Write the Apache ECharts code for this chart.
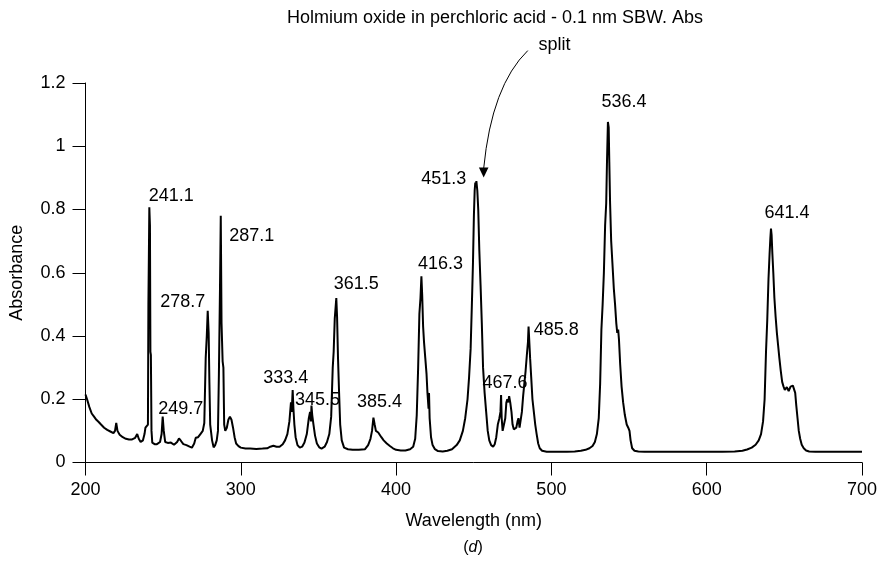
<!DOCTYPE html>
<html>
<head>
<meta charset="utf-8">
<script src="https://cdn.jsdelivr.net/npm/echarts@6/dist/echarts.min.js"></script>
<style>html,body{margin:0;padding:0;background:#fff}#c{width:880px;height:564px}</style>
</head>
<body>
<div id="c"></div>
<script>
// ---------------- DATA ----------------
const wavelengths = [
200,201,202.5,204,205.5,207,207.5,208,208.5,210,212,214,216,218,219,219.8,220.6,222,224,226,228,230,232,233.3,234.3,235.5,237,238,238.6,239.5,240.2,240.5,240.8,241.1,241.5,241.8,242.1,242.5,243,244.5,246,248,249,249.7,250.4,251.3,253,255,257,259,260.2,261.5,263,265,267,268.5,270,271,272.5,274,275.5,276.5,277.4,278.1,278.7,279.3,279.8,280.3,281.5,282.5,283.5,284.5,285.3,285.9,286.6,287.1,287.6,288.3,288.8,289.3,290,291,292,293,294,295,296,297,298.5,300,303,306,310,314,317,319,321,323,325,327,328.5,330,331.3,332.3,332.8,333.4,333.9,334.5,335.3,336.5,338,339.5,341,342.5,343.8,344.6,345.2,345.5,346,346.8,347.8,349,350.5,352,354,355.5,357,358.2,359.2,359.8,360.5,361,361.5,362,362.6,363.3,364,365,366.5,369,372,376,380,382,383.5,384.5,385.4,386.2,387,387.7,388.5,389.5,390.5,392,394,396,398,400,403,406,409,411,412.3,413.3,414.2,415,415.7,416.3,416.8,417.4,418,418.8,419.6,420.2,420.6,420.9,421.2,421.6,422.5,423.5,425,427,430,433,436,439,441,443,444.5,446,447,448,448.8,449.5,450.1,450.6,451,451.3,451.7,452.3,452.9,453.6,454.4,455.2,456,457,458,459,460,461.2,462.5,463.5,464.5,465.5,466.5,467.2,467.6,468,468.6,469.4,470.3,471,471.6,472.2,472.8,473.5,474.3,475,475.8,476.6,477.4,478.2,478.8,479.5,480.3,481,481.8,482.6,483.4,484.2,484.9,485.3,485.8,486.3,487,487.8,488.7,489.6,490.5,491.5,492.5,494,497,500,505,510,515,519,522,524.5,526.5,528,529.3,530.5,531.4,532.2,533,533.8,534.6,535.3,535.8,536.4,536.9,537.3,537.8,538.5,539.3,540.2,541,541.8,542.4,543,543.5,544.3,545.2,546.2,547.3,548.5,549.5,550.3,551,552,553.5,556,560,570,580,590,600,610,618,623,626,629,631.5,633.5,635,636.3,637.3,638.2,639,639.8,640.5,641,641.4,641.8,642.3,642.9,643.6,644.4,645.2,646,646.8,647.7,648.6,649.5,650.3,651,651.6,652.2,652.8,653.4,654,654.7,655.5,656.3,657,657.7,658.5,659.3,660.2,661.2,662.5,664,666,670,680,690,700
];
const absorbance = [
0.215,0.2,0.175,0.155,0.145,0.135,0.13,0.138,0.128,0.12,0.11,0.103,0.098,0.093,0.1,0.125,0.1,0.088,0.08,0.075,0.073,0.073,0.078,0.09,0.075,0.065,0.07,0.09,0.11,0.105,0.12,0.5,0.65,0.807,0.75,0.35,0.34,0.1,0.063,0.058,0.058,0.065,0.09,0.145,0.1,0.065,0.062,0.063,0.056,0.065,0.076,0.068,0.058,0.055,0.05,0.047,0.06,0.078,0.08,0.09,0.1,0.125,0.33,0.4,0.48,0.41,0.25,0.12,0.07,0.048,0.055,0.07,0.1,0.28,0.55,0.78,0.44,0.32,0.3,0.12,0.1,0.11,0.135,0.145,0.135,0.11,0.08,0.06,0.052,0.047,0.044,0.044,0.043,0.044,0.045,0.05,0.053,0.05,0.05,0.058,0.07,0.09,0.13,0.19,0.16,0.229,0.17,0.12,0.08,0.055,0.047,0.05,0.063,0.09,0.14,0.16,0.13,0.18,0.15,0.12,0.085,0.06,0.048,0.044,0.05,0.065,0.09,0.145,0.3,0.35,0.455,0.46,0.52,0.46,0.33,0.22,0.12,0.07,0.047,0.042,0.04,0.04,0.042,0.055,0.075,0.1,0.142,0.12,0.1,0.105,0.095,0.1,0.08,0.07,0.06,0.052,0.045,0.04,0.038,0.038,0.042,0.05,0.075,0.15,0.3,0.47,0.52,0.589,0.53,0.43,0.38,0.33,0.28,0.22,0.225,0.17,0.22,0.14,0.08,0.055,0.042,0.036,0.035,0.037,0.042,0.055,0.07,0.1,0.14,0.2,0.27,0.36,0.5,0.63,0.78,0.86,0.885,0.875,0.89,0.86,0.8,0.67,0.56,0.44,0.3,0.22,0.16,0.1,0.07,0.055,0.05,0.058,0.08,0.12,0.14,0.16,0.213,0.14,0.1,0.105,0.14,0.19,0.2,0.19,0.21,0.19,0.16,0.12,0.105,0.1,0.11,0.13,0.14,0.11,0.105,0.16,0.21,0.25,0.29,0.34,0.38,0.43,0.425,0.33,0.27,0.2,0.16,0.12,0.09,0.06,0.045,0.037,0.034,0.034,0.034,0.034,0.035,0.037,0.04,0.045,0.052,0.065,0.09,0.14,0.25,0.42,0.5,0.6,0.75,0.82,0.95,1.077,1.06,0.95,0.82,0.7,0.63,0.55,0.5,0.44,0.41,0.42,0.39,0.31,0.24,0.19,0.15,0.12,0.11,0.1,0.07,0.045,0.037,0.035,0.034,0.034,0.034,0.034,0.034,0.034,0.035,0.037,0.041,0.047,0.056,0.07,0.09,0.13,0.2,0.35,0.45,0.58,0.66,0.71,0.74,0.72,0.66,0.6,0.52,0.46,0.41,0.37,0.33,0.29,0.255,0.24,0.23,0.225,0.238,0.24,0.226,0.23,0.24,0.245,0.243,0.24,0.22,0.18,0.14,0.1,0.075,0.056,0.045,0.038,0.035,0.034,0.034,0.034,0.034
];
const peakNames = ['241.1','249.7','278.7','287.1','333.4','345.5','361.5','385.4','416.3','451.3','467.6','485.8','536.4','641.4'];
const peakWavelengths = [241.1,249.7,278.7,287.1,333.4,345.5,361.5,385.4,416.3,451.3,467.6,485.8,536.4,641.4];
const peakHeights = [0.807,0.145,0.48,0.78,0.229,0.18,0.52,0.142,0.589,0.89,0.213,0.43,1.077,0.74];
const xTicks = [200,300,400,500,600,700];
const titleText = 'Holmium oxide in perchloric acid - 0.1 nm SBW. Abs';
const noteText = 'split';
const xName = 'Wavelength (nm)';
const yName = 'Absorbance';

// ---------------- LAYOUT / STYLE ----------------
const FONT = '"Liberation Sans", Arial, Helvetica, sans-serif';
const FS = 18;
const labelOffsets = [[22,-11],[18,-8],[-25,-9],[31,20],[-7,-12],[6,-6],[20,-14],[6,-16],[19,-12],[-32,-2],[4,-12],[27,4],[16,-20],[16,-15]];
// arrow annotation anchor points in data coords: start, control, end, tip
const arrowAnchors = {start:[484.8,1.3025], ctrl:[461.6,1.192], end:[456.4,0.93], tip:[456.4,0.901]};

const chart = echarts.init(document.getElementById('c'), null, {renderer:'canvas'});
const lineData = wavelengths.map((w,i)=>[w, absorbance[i]]);

chart.setOption({
  animation:false,
  backgroundColor:'#fff',
  grid:{left:85.5, right:17.5, top:83, bottom:101.5, containLabel:false},
  xAxis:{
    type:'value', min:xTicks[0], max:xTicks[xTicks.length-1], interval:100,
    name:xName, nameLocation:'middle', nameGap:50,
    nameTextStyle:{fontFamily:FONT, fontSize:FS, color:'#000'},
    axisLine:{show:true, onZero:false, lineStyle:{color:'#000', width:1}},
    axisTick:{show:true, inside:false, length:13, lineStyle:{color:'#000', width:1}},
    axisLabel:{fontFamily:FONT, fontSize:FS, color:'#000', margin:19},
    splitLine:{show:false}
  },
  yAxis:{
    type:'value', min:0, max:1.2, interval:0.2,
    name:yName, nameLocation:'middle', nameGap:59, nameRotate:90,
    nameTextStyle:{fontFamily:FONT, fontSize:FS, color:'#000'},
    axisLine:{show:true, lineStyle:{color:'#000', width:1}},
    axisTick:{show:true, inside:false, length:13, lineStyle:{color:'#000', width:1}},
    axisLabel:{fontFamily:FONT, fontSize:FS, color:'#000', margin:20},
    splitLine:{show:false}
  },
  series:[
    {type:'line', data:lineData, showSymbol:false, symbol:'none',
     lineStyle:{color:'#000', width:2}, z:2}
  ]
});

const P = (pt)=>chart.convertToPixel({gridIndex:0}, pt);
const s = P(arrowAnchors.start), c = P(arrowAnchors.ctrl), e = P(arrowAnchors.end), t = P(arrowAnchors.tip);
const hw = 4.8;
const peakLabelGraphics = peakWavelengths.map((w,i)=>{
  const p = P([w, peakHeights[i]]);
  return {type:'text', x:p[0]+labelOffsets[i][0], y:p[1]+labelOffsets[i][1], z:10,
    style:{text:peakNames[i], fontFamily:FONT, fontSize:FS, fill:'#000', textAlign:'center', textVerticalAlign:'middle'}};
});
chart.setOption({
  graphic:[
    {type:'text', x:495, y:18, style:{text:titleText, fontFamily:FONT, fontSize:FS, fill:'#000', textAlign:'center', textVerticalAlign:'middle'}},
    {type:'text', x:554.5, y:45, style:{text:noteText, fontFamily:FONT, fontSize:FS, fill:'#000', textAlign:'center', textVerticalAlign:'middle'}},
    {type:'bezierCurve', shape:{x1:s[0], y1:s[1], x2:e[0], y2:e[1], cpx1:c[0], cpy1:c[1]}, style:{stroke:'#000', lineWidth:1, fill:null}},
    {type:'polygon', shape:{points:[[t[0],t[1]],[e[0]-hw,e[1]-1],[e[0]+hw,e[1]-1]]}, style:{fill:'#000'}},
    {type:'text', x:473, y:548, style:{text:'({i|d})', fontFamily:FONT, fontSize:16, fill:'#000', textAlign:'center', textVerticalAlign:'middle',
      rich:{i:{fontStyle:'italic', fontFamily:FONT, fontSize:16, fill:'#000'}}}}
  ].concat(peakLabelGraphics)
});
</script>
</body>
</html>
